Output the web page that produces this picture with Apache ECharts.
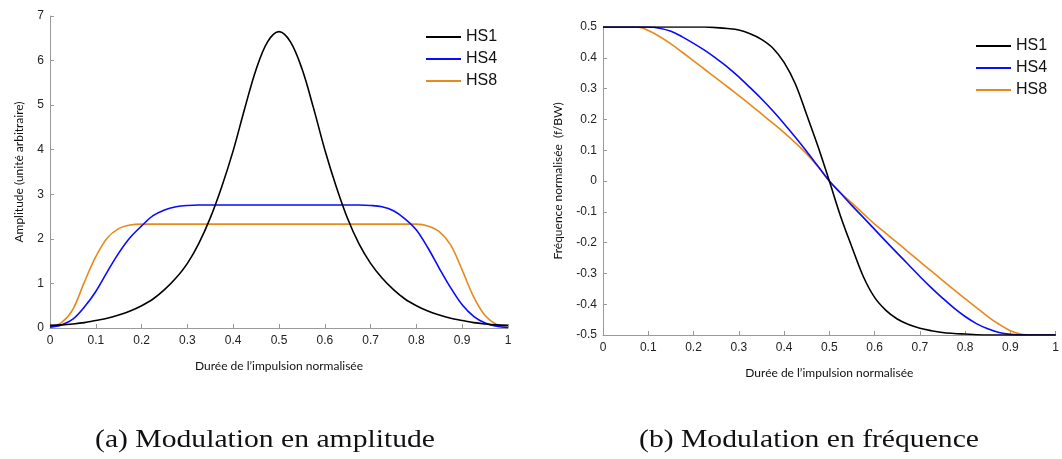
<!DOCTYPE html>
<html><head><meta charset="utf-8">
<script src="https://cdn.jsdelivr.net/npm/echarts@6/dist/echarts.min.js"></script>
<style>html,body{margin:0;padding:0;background:#fff}#c{width:1062px;height:459px}</style>
</head><body><div id="c"></div><script>
// Normalised pulse duration sampling points
const tVals = [0,0.025,0.05,0.075,0.1,0.125,0.15,0.175,0.2,0.225,0.25,0.275,0.3,0.325,0.35,0.375,0.4,0.425,0.45,0.475,0.5,
  0.525,0.55,0.575,0.6,0.625,0.65,0.675,0.7,0.725,0.75,0.775,0.8,0.825,0.85,0.875,0.9,0.925,0.95,0.975,1];

// (a) Amplitude modulation
const ampHS1 = [0.06,0.07,0.09,0.12,0.17,0.22,0.29,0.38,0.50,0.65,0.86,1.12,1.45,1.90,2.47,3.17,3.98,4.92,5.80,6.42,6.65,
  6.42,5.82,4.95,4.00,3.17,2.45,1.88,1.45,1.12,0.86,0.65,0.50,0.38,0.29,0.22,0.17,0.12,0.09,0.07,0.06];
const ampHS4 = [0.02,0.07,0.20,0.47,0.82,1.26,1.68,2.03,2.29,2.52,2.65,2.72,2.75,2.76,2.76,2.76,2.76,2.76,2.76,2.76,2.76,
  2.76,2.76,2.76,2.76,2.76,2.76,2.76,2.75,2.72,2.63,2.45,2.20,1.80,1.34,0.90,0.52,0.26,0.11,0.04,0.01];
const ampHS8 = [0.02,0.12,0.42,1.03,1.60,2.02,2.23,2.31,2.33,2.33,2.33,2.33,2.33,2.33,2.33,2.33,2.33,2.33,2.33,2.33,2.33,
  2.33,2.33,2.33,2.33,2.33,2.33,2.33,2.33,2.33,2.33,2.33,2.33,2.29,2.16,1.86,1.30,0.70,0.28,0.08,0.01];

// (b) Frequency modulation (f/BW)
const freqHS1 = [0.5,0.5,0.5,0.5,0.5,0.5,0.5,0.5,0.5,0.5,0.498,0.495,0.49,0.478,0.46,0.432,0.385,0.315,0.215,0.112,0,
  -0.115,-0.215,-0.31,-0.378,-0.42,-0.448,-0.466,-0.478,-0.486,-0.492,-0.495,-0.497,-0.499,-0.5,-0.5,-0.5,-0.5,-0.5,-0.5,-0.5];
const freqHS4 = [0.5,0.5,0.5,0.5,0.5,0.496,0.486,0.468,0.447,0.424,0.398,0.37,0.338,0.303,0.267,0.228,0.186,0.142,0.096,0.048,0,
  -0.04,-0.08,-0.118,-0.157,-0.196,-0.234,-0.272,-0.31,-0.346,-0.38,-0.412,-0.44,-0.463,-0.48,-0.492,-0.498,-0.5,-0.5,-0.5,-0.5];
const freqHS8 = [0.5,0.5,0.5,0.5,0.489,0.469,0.445,0.418,0.39,0.362,0.334,0.306,0.277,0.248,0.218,0.188,0.157,0.124,0.088,0.046,0,
  -0.038,-0.072,-0.106,-0.14,-0.17,-0.2,-0.231,-0.262,-0.292,-0.323,-0.353,-0.382,-0.411,-0.44,-0.465,-0.486,-0.498,-0.5,-0.5,-0.5];

const seriesNames = ['HS1','HS4','HS8'];
const colors = ['#000000','#0a0aff','#e8891c'];
const xName = 'Durée de l’impulsion normalisée';
const yNameA = 'Amplitude (unité arbitraire)';
const yNameB = 'Fréquence normalisée  (f/BW)';
const captionA = '(a) Modulation en amplitude';
const captionB = '(b) Modulation en fréquence';

const fmt = v => String(+v.toFixed(1));
const axisGrey = '#9a9a9a';
function xAx(gi){
  return {type:'value', gridIndex:gi, min:0, max:1, interval:0.1,
    name:xName, nameLocation:'middle', nameGap:32,
    nameTextStyle:{fontFamily:'Lato', fontSize:12, color:'#111'},
    axisLine:{onZero:false, lineStyle:{color:axisGrey, width:1}},
    axisTick:{inside:true, length:4, lineStyle:{color:axisGrey}},
    axisLabel:{formatter:fmt, color:'#222', fontFamily:'Liberation Sans', fontSize:12, margin:7},
    splitLine:{show:false}};
}
function yAx(gi, min, max, interval, name, gap){
  return {type:'value', gridIndex:gi, min:min, max:max, interval:interval,
    name:name, nameLocation:'middle', nameGap:gap, nameRotate:90,
    nameTextStyle:{fontFamily:'Lato', fontSize:12, color:'#111'},
    axisLine:{show:true, onZero:false, lineStyle:{color:axisGrey, width:1}},
    axisTick:{show:true, inside:true, length:4, lineStyle:{color:axisGrey}},
    axisLabel:{formatter:fmt, color:'#222', fontFamily:'Liberation Sans', fontSize:12, margin:6},
    splitLine:{show:false}};
}
function mk(arr){ return tVals.map((t,i)=>[t, arr[i]]); }
function line(name, data, gi, ci){
  return {name:name, type:'line', xAxisIndex:gi, yAxisIndex:gi, data:mk(data), showSymbol:false, symbol:'none',
    smooth:0.35, lineStyle:{color:colors[ci], width:1.6}, itemStyle:{color:colors[ci]}, animation:false, z: 3-ci};
}
function legend(left, top){
  return {orient:'vertical', left:left, top:top, itemWidth:35, itemHeight:2, itemGap:6, icon:'rect',
    data:seriesNames, textStyle:{fontFamily:'Liberation Sans', fontSize:16, color:'#111', padding:[0,0,0,0]}, selectedMode:false};
}

const chart = echarts.init(document.getElementById('c'), null, {renderer:'canvas'});
chart.setOption({
  backgroundColor:'#fff',
  animation:false,
  grid:[{left:50, top:16, width:458, height:312},
        {left:603, top:27, width:454, height:308}],
  xAxis:[xAx(0), xAx(1)],
  yAxis:[yAx(0,0,7,1,yNameA,25), yAx(1,-0.5,0.5,0.1,yNameB,39)],
  legend:[legend(421,24), legend(971,33)],
  series:[
    line('HS1', ampHS1, 0, 0), line('HS4', ampHS4, 0, 1), line('HS8', ampHS8, 0, 2),
    line('HS1', freqHS1, 1, 0), line('HS4', freqHS4, 1, 1), line('HS8', freqHS8, 1, 2)
  ],
  graphic:[
    {type:'text', x:265, y:440, scaleX:1.14, style:{text:captionA, font:'26px "Liberation Serif"', fill:'#111', textAlign:'center', textVerticalAlign:'middle'}},
    {type:'text', x:809, y:440, scaleX:1.14, style:{text:captionB, font:'26px "Liberation Serif"', fill:'#111', textAlign:'center', textVerticalAlign:'middle'}}
  ]
});
</script></body></html>
